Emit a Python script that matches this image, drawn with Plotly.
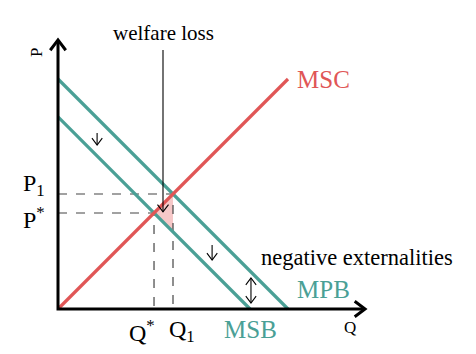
import plotly.graph_objects as go

# ---- data (price / quantity units) ----
mpb_q = [0, 10.0]
mpb_p = [10.0, 0]
msb_q = [0, 8.35]
msb_p = [8.35, 0]
msc_q = [0, 10.0]
msc_p = [0, 10.0]

axis_q_max = 13.35
axis_p_max = 11.7

# equilibria from the lines (MSC: P=Q ; MPB: P=10-Q ; MSB: P=8.35-Q)
q1 = mpb_p[0] / 2
p1 = q1
q_star = msb_p[0] / 2
p_star = q_star
msb_at_q1 = msb_p[0] - q1

TEAL = "#4aa096"
RED = "#e05656"
FONT = "Liberation Serif"

fig = go.Figure()

# welfare loss triangle
fig.add_trace(go.Scatter(x=[q_star, q1, q1, q_star], y=[p_star, p1, msb_at_q1, p_star],
                         fill="toself", fillcolor="#f6c8c8", line=dict(width=0),
                         mode="lines", hoverinfo="skip"))

# dashed guides
dash = dict(color="#444444", width=1.2, dash="dash")
fig.add_trace(go.Scatter(x=[0, q1, q1], y=[p1, p1, 0], mode="lines", line=dash))
fig.add_trace(go.Scatter(x=[0, q_star, q_star], y=[p_star, p_star, 0], mode="lines", line=dash))

# curves
fig.add_trace(go.Scatter(x=mpb_q, y=mpb_p, mode="lines", line=dict(color=TEAL, width=3.2)))
fig.add_trace(go.Scatter(x=msb_q, y=msb_p, mode="lines", line=dict(color=TEAL, width=3.2)))
fig.add_trace(go.Scatter(x=msc_q, y=msc_p, mode="lines", line=dict(color=RED, width=3.2)))

# axes
ax_line = dict(color="black", width=3)
fig.add_trace(go.Scatter(x=[0, 0, axis_q_max], y=[axis_p_max, 0, 0], mode="lines", line=ax_line))


def vhead(x, y, direction, size, width, color="black"):
    """open V arrow head at (x, y) pointing direction: 'up','down','right'"""
    s = size
    if direction == "up":
        xs, ys = [x - s * 0.75, x, x + s * 0.75], [y - s, y, y - s]
    elif direction == "down":
        xs, ys = [x - s * 0.75, x, x + s * 0.75], [y + s, y, y + s]
    else:
        xs, ys = [x - s, x, x - s], [y + s * 0.75, y, y - s * 0.75]
    fig.add_trace(go.Scatter(x=xs, y=ys, mode="lines",
                             line=dict(color=color, width=width)))


vhead(0, axis_p_max, "up", 0.45, 3)
vhead(axis_q_max, 0, "right", 0.45, 3)

# welfare loss pointer
wl_x = 4.565
wl_top = 11.26
wl_tip = 4.22
fig.add_trace(go.Scatter(x=[wl_x, wl_x], y=[wl_top, wl_tip], mode="lines",
                         line=dict(color="black", width=1.1)))
vhead(wl_x, wl_tip, "down", 0.32, 1.1)

# small shift arrows
for (ax, ytop, ybot) in [(1.7, 7.65, 7.13), (6.7, 2.78, 2.13)]:
    fig.add_trace(go.Scatter(x=[ax, ax], y=[ytop, ybot], mode="lines",
                             line=dict(color="black", width=1.1)))
    vhead(ax, ybot, "down", 0.3, 1.1)

dbl_x, dbl_top, dbl_bot = 8.39, 1.35, 0.26
fig.add_trace(go.Scatter(x=[dbl_x, dbl_x], y=[dbl_top, dbl_bot], mode="lines",
                         line=dict(color="black", width=1.1)))
vhead(dbl_x, dbl_bot, "down", 0.3, 1.1)
vhead(dbl_x, dbl_top, "up", 0.3, 1.1)

# text labels
def txt(x, y, s, size, color="black", xanchor="center", angle=0):
    fig.add_annotation(x=x, y=y, text=s, showarrow=False, xanchor=xanchor, yanchor="middle",
                       textangle=angle, font=dict(family=FONT, size=size, color=color))


txt(wl_x, 12.0, "welfare loss", 21)
txt(11.55, 10.0, "MSC", 25, RED)
txt(11.55, 0.83, "MPB", 25, TEAL)
txt(8.35, -0.91, "MSB", 25, TEAL)
txt(13.0, 2.26, "negative externalities", 22.5)
txt(q_star + 0.15, -0.95, "Q<sup>*</sup>", 24, xanchor="right")
txt(q1 - 0.25, -0.95, "Q<sub>1</sub>", 24, xanchor="left")
txt(-0.5, p1 + 0.4, "P<sub>1</sub>", 24, xanchor="right")
txt(-0.5, p_star - 0.2, "P<sup>*</sup>", 24, xanchor="right")
txt(-0.96, 11.17, "P", 17, angle=-90)
txt(12.7, -0.8, "Q", 17)

px = 23.0
x0, y0 = 58, 309
fig.update_layout(
    width=476, height=354, margin=dict(l=0, r=0, t=0, b=0),
    paper_bgcolor="white", plot_bgcolor="white", showlegend=False,
    xaxis=dict(range=[-x0 / px, (476 - x0) / px], visible=False, fixedrange=True),
    yaxis=dict(range=[(y0 - 354) / px, y0 / px], visible=False, fixedrange=True),
)

fig.write_html("out.html")
